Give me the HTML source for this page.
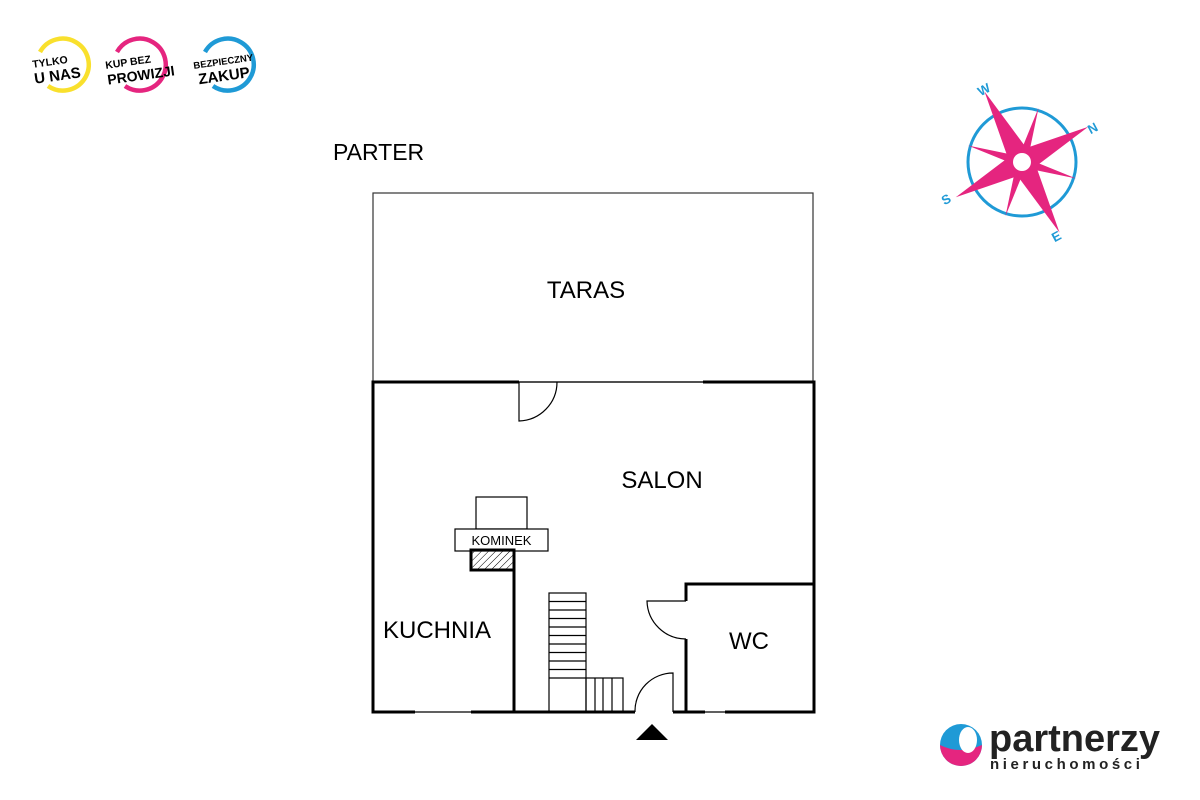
<!DOCTYPE html>
<html><head><meta charset="utf-8"><style>
html,body{margin:0;padding:0;background:#fff;}
svg{display:block;}
text{font-family:"Liberation Sans","DejaVu Sans",sans-serif;}
</style></head><body>
<svg width="1200" height="800" viewBox="0 0 1200 800" xmlns="http://www.w3.org/2000/svg">
<defs>
<pattern id="h" width="5" height="5" patternUnits="userSpaceOnUse" patternTransform="rotate(45)">
<line x1="0" y1="0" x2="0" y2="5" stroke="#000" stroke-width="1"/>
</pattern>
</defs>
<!-- badges -->
<g font-weight="bold" fill="#000">
<path d="M40,52 A26,26 0 1 1 48,86" fill="none" stroke="#f9e02d" stroke-width="4.5"/>
<text x="32" y="64" font-size="10.5" transform="rotate(-8 60 60)">TYLKO</text>
<text x="32" y="80" font-size="15" transform="rotate(-8 60 60)">U NAS</text>
<path d="M117,52 A26,26 0 1 1 125,86" fill="none" stroke="#e5257f" stroke-width="4.5"/>
<text x="105" y="64" font-size="10.5" transform="rotate(-8 140 60)">KUP BEZ</text>
<text x="105" y="80" font-size="14" transform="rotate(-8 140 60)">PROWIZJI</text>
<path d="M205,52 A26,26 0 1 1 213,86" fill="none" stroke="#1f9ad6" stroke-width="4.5"/>
<text x="193" y="64" font-size="9.5" transform="rotate(-8 228 60)">BEZPIECZNY</text>
<text x="196" y="80" font-size="15" transform="rotate(-8 228 60)">ZAKUP</text>
</g>
<!-- compass -->
<g transform="translate(1022,162)">
<circle r="54" fill="none" stroke="#1f9ad6" stroke-width="3"/>
<g fill="#e5257f" transform="rotate(-28)">
<polygon points="0,-12 75,0 0,12 -75,0"/>
<polygon points="-12,0 0,-80 12,0 0,80"/>
<polygon points="-10,-4 -40,-40 -4,-10 10,4 40,40 4,10" />
<polygon points="10,-4 40,-40 4,-10 -10,4 -40,40 -4,10" />
</g>
<circle r="9" fill="#fff"/>
<g fill="#1f9ad6" font-weight="bold" font-size="13">
<text x="-44" y="-68" transform="rotate(-28 -38 -72)">W</text>
<text x="66" y="-30" transform="rotate(-28 72 -34)">N</text>
<text x="-80" y="42" transform="rotate(-28 -76 38)">S</text>
<text x="30" y="78" transform="rotate(-28 36 74)">E</text>
</g>
</g>
<!-- labels -->
<text x="333" y="160" font-size="23">PARTER</text>
<text x="586" y="298" font-size="24" text-anchor="middle">TARAS</text>
<text x="662" y="488" font-size="24" text-anchor="middle">SALON</text>
<text x="437" y="638" font-size="24" text-anchor="middle">KUCHNIA</text>
<text x="749" y="649" font-size="24" text-anchor="middle">WC</text>
<!-- taras -->
<rect x="373" y="193" width="440" height="189" fill="none" stroke="#333" stroke-width="1.2"/>
<g stroke="#000" fill="none">
<g stroke-width="3">
<polyline points="519,382 373,382 373,712 415,712"/>
<polyline points="703,382 814,382 814,712 725,712"/>
<line x1="471" y1="712" x2="635" y2="712"/>
<line x1="673" y1="712" x2="705" y2="712"/>
<line x1="514" y1="570" x2="514" y2="712"/>
<polyline points="814,584 686,584 686,601"/>
<line x1="686" y1="639" x2="686" y2="712"/>
</g>
<g stroke-width="1.2">
<line x1="519" y1="382" x2="703" y2="382"/>
<line x1="415" y1="712" x2="471" y2="712"/>
<line x1="705" y1="712" x2="725" y2="712"/>
<path d="M519,382 V421 A39,39 0 0 0 557,382"/>
<path d="M686,601 H647 A39,39 0 0 0 686,639"/>
<path d="M673,712 V673 A38,38 0 0 0 635,712"/>
<rect x="476" y="497" width="51" height="32" fill="#fff"/>
<rect x="455" y="529" width="93" height="22" fill="#fff"/>
<rect x="549" y="593" width="37" height="119"/>
<rect x="586" y="678" width="37" height="34"/>
<path d="M549,601.5H586M549,610H586M549,618.5H586M549,627H586M549,635.5H586M549,644H586M549,652.5H586M549,661H586M549,669.5H586M549,678H586"/>
<path d="M595,678V712M603,678V712M612,678V712"/>
</g>
<rect x="471" y="550" width="43" height="20" fill="url(#h)" stroke-width="3"/>
</g>
<text x="501.5" y="545" font-size="13" text-anchor="middle">KOMINEK</text>
<polygon points="652,724 668,740 636,740" fill="#000"/>
<!-- logo -->
<g>
<circle cx="961" cy="745" r="21" fill="#1f9ad6"/>
<path d="M940,745 A21,21 0 0 0 982,745 Q960,755 940,745Z" fill="#e5257f"/>
<ellipse cx="968" cy="740" rx="9" ry="13" fill="#fff"/>
<text x="989" y="751" font-size="38" font-weight="bold" fill="#222" letter-spacing="0">partnerzy</text>
<text x="990" y="769" font-size="15" font-weight="bold" fill="#222" letter-spacing="3.6">nieruchomości</text>
</g>
</svg>
</body></html>
